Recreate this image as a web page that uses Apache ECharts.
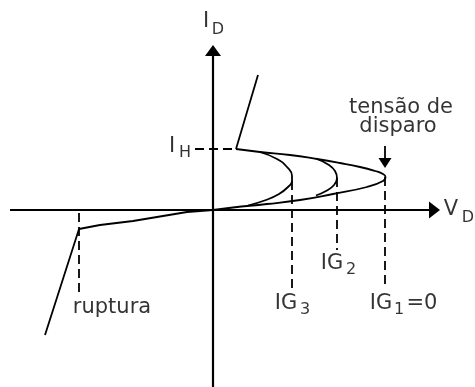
<!DOCTYPE html>
<html>
<head>
<meta charset="utf-8">
<script src="https://cdn.jsdelivr.net/npm/echarts@6/dist/echarts.min.js"></script>
<style>
  html, body { margin: 0; padding: 0; background: #fff; }
  #chart { width: 475px; height: 387px; }
</style>
</head>
<body>
<div id="chart"></div>
<script>
// curva característica do tiristor (V_D, I_D), unidades arbitrárias
const ig1Curve = [[2.3, 6.1], [4.7, 5.8], [7.7, 5.5], [10.4, 5.1], [12.7, 4.7], [14.7, 4.3], [16.2, 3.9], [17.0, 3.6], [17.25, 3.3],
  [17.0, 2.9], [15.4, 2.3], [12.0, 1.6], [8.7, 1.0], [5.4, 0.6], [2.0, 0.25], [0, 0]];
const ig2Curve = [[10.4, 5.1], [11.6, 4.5], [12.2, 3.9], [12.4, 3.2], [12.1, 2.5], [11.3, 1.9], [10.3, 1.45]];
const ig3Curve = [[4.7, 5.8], [6.4, 5.1], [7.4, 4.3], [7.9, 3.4], [7.9, 2.9], [7.5, 2.3], [6.6, 1.6], [5.3, 1.0], [3.5, 0.45]];
const onState = [[2.3, 6.1], [4.5, 13.5]];
const reverse = [[0, 0], [-2.6, -0.2], [-8.0, -1.1], [-11.3, -1.5], [-13.4, -1.9], [-16.8, -12.5]];

// linhas tracejadas de referência
const holdGuide = [[-1.8, 6.1], [2.3, 6.1]];
const breakGuide = [[-13.4, -0.3], [-13.4, -8.7]];
const ig3Guide = [[7.9, 2.9], [7.9, -7.8]];
const ig2Guide = [[12.4, 3.2], [12.4, -4.0]];
const ig1Guide = [[17.2, 3.3], [17.2, -7.6]];

// eixos e seta da tensão de disparo
const vAxisLine = [[0, -17.7], [0, 16.5]];
const hAxisLine = [[-20.3, 0], [22.7, 0]];
const triggerArrow = [[17.2, 6.4], [17.2, 4.2]];

// textos
const labels = [
  { text: 'I', at: [-0.7, 18.8] }, { text: 'D', at: [0.5, 18.0], sub: true },
  { text: 'I', at: [-4.1, 6.3] }, { text: 'H', at: [-2.8, 5.7], sub: true },
  { text: 'V', at: [23.8, 0] }, { text: 'D', at: [25.5, -0.8], sub: true },
  { text: 'tensão de', at: [18.8, 10.2] }, { text: 'disparo', at: [18.5, 8.3] },
  { text: 'ruptura', at: [-10.1, -9.8] },
  { text: 'IG', at: [7.3, -9.4] }, { text: '3', at: [9.2, -10.0], sub: true },
  { text: 'IG', at: [11.9, -5.4] }, { text: '2', at: [13.8, -6.0], sub: true },
  { text: 'IG', at: [16.8, -9.4] }, { text: '1', at: [18.6, -10.0], sub: true }, { text: '=0', at: [20.9, -9.4] }
];

const chart = echarts.init(document.getElementById('chart'));

function solid (data, smooth, width) {
  return {
    type: 'line', data: data, smooth: smooth, showSymbol: false, silent: true,
    lineStyle: { color: '#000', width: width || 1.8 }
  };
}
function dashed (data) {
  return {
    type: 'line', data: data, showSymbol: false, silent: true,
    lineStyle: { color: '#000', width: 1.8, type: [9, 5] }
  };
}
// ponta da seta: centro recuado meia altura a partir da ponta (10 px por unidade)
function head (tip, dir, len, wid) {
  const half = len / 20;
  const c = dir === 'up' ? [tip[0], tip[1] - half] : dir === 'down' ? [tip[0], tip[1] + half] : [tip[0] - half, tip[1]];
  const rot = dir === 'up' ? 0 : dir === 'down' ? 180 : -90;
  return { value: c, symbolRotate: rot, symbolSize: [wid, len] };
}

chart.setOption({
  animation: false,
  backgroundColor: '#fff',
  grid: { left: 0, right: 0, top: 0, bottom: 0 },
  xAxis: { type: 'value', min: -21.3, max: 26.2, show: false },
  yAxis: { type: 'value', min: -17.7, max: 21.0, show: false },
  series: [
    solid([vAxisLine[0], [0, vAxisLine[1][1] - 1.0]], false, 2.2),
    solid([hAxisLine[0], [hAxisLine[1][0] - 1.0, 0]], false, 2.2),
    solid([triggerArrow[0], [17.2, triggerArrow[1][1] + 0.9]], false, 1.8),
    solid(ig1Curve, 0.5),
    solid(ig2Curve, 0.5),
    solid(ig3Curve, 0.5),
    solid(onState, false),
    solid(reverse, false),
    dashed(holdGuide),
    dashed(breakGuide),
    dashed(ig3Guide),
    dashed(ig2Guide),
    dashed(ig1Guide),
    {
      type: 'scatter', silent: true, symbol: 'triangle',
      itemStyle: { color: '#000', opacity: 1 },
      data: [
        head(vAxisLine[1], 'up', 11, 16),
        head(hAxisLine[1], 'right', 11, 17),
        head(triggerArrow[1], 'down', 10, 13)
      ]
    },
    {
      type: 'scatter', silent: true, symbolSize: 0,
      data: labels.map(l => ({
        value: l.at, name: l.text,
        label: { fontSize: l.sub ? 16 : 21, color: '#000' }
      })),
      label: {
        show: true, position: [0, 0], align: 'center', verticalAlign: 'middle',
        color: '#000', fontFamily: 'DejaVu Sans',
        formatter: p => p.name
      }
    }
  ]
});
</script>
</body>
</html>
